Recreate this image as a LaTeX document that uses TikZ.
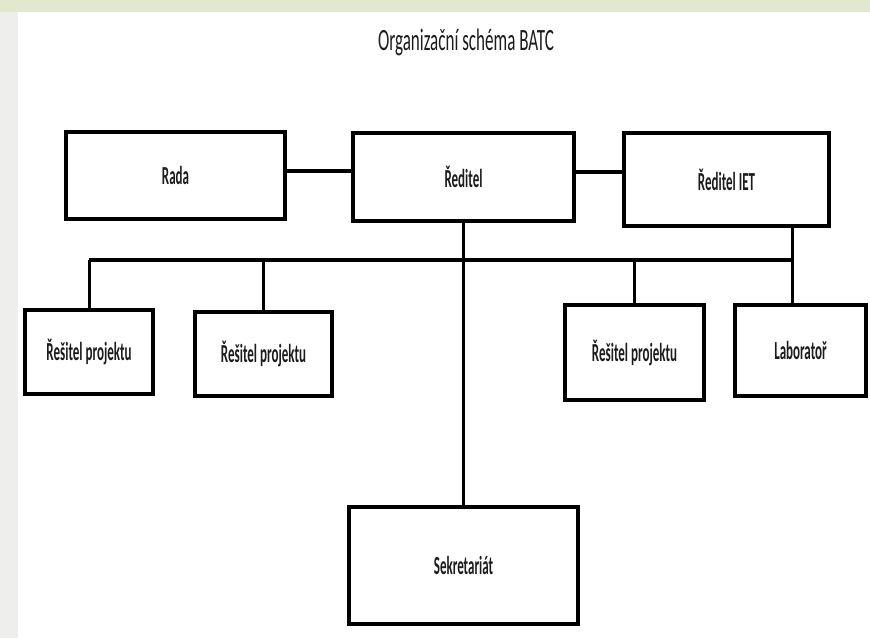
\documentclass[tikz,border=0pt]{standalone}
\usepackage{fontspec}
\setmainfont{Carlito}[FakeStretch=0.55]
\newfontfamily\boxfont{Carlito}[FakeStretch=0.5]
\usetikzlibrary{calc}

\definecolor{slidegray}{RGB}{238,238,236}
\definecolor{slidegreen}{RGB}{226,232,206}
\definecolor{inkgray}{RGB}{28,28,28}

\tikzset{
  box/.style={draw=black, line width=4pt, fill=white, inner sep=0pt,
    text=inkgray, font=\boxfont\bfseries\fontsize{26}{28}\selectfont},
  hline/.style={line width=4.5pt},
  vline/.style={line width=3pt}
}

\begin{document}
\begin{tikzpicture}[x=1pt, y=-1pt]
    \useasboundingbox (0,0) rectangle (870,638);
    % slide background
    \fill[slidegray] (0,0) rectangle (870,638);
    \fill[slidegreen] (0,0) rectangle (870,12);
    \fill[white] (18,12) rectangle (870,638);

    \node[text=inkgray, font=\fontsize{31}{33}\selectfont] (title) at (466, 42) {Organizační schéma BATC};

    \node[box, minimum width=219pt, minimum height=87pt] (rada) at (175.5, 175.5) {Rada};
    \node[box, minimum width=221pt, minimum height=88pt] (reditel) at (463.5, 177) {Ředitel};
    \node[box, minimum width=205pt, minimum height=93pt] (iet) at (726.5, 179.5) {Ředitel IET};

    \node[box, minimum width=128pt, minimum height=84pt] (res1) at (89, 352) {Řešitel projektu};
    \node[box, minimum width=137pt, minimum height=84pt] (res2) at (263.5, 354) {Řešitel projektu};
    \node[box, minimum width=139pt, minimum height=95pt] (res3) at (634.5, 352.5) {Řešitel projektu};
    \node[box, minimum width=131pt, minimum height=91pt] (lab) at (800.5, 350.5) {Laboratoř};

    \node[box, minimum width=229pt, minimum height=117pt] (sekr) at (463.5, 565.5) {Sekretariát};

    \coordinate (bus) at (0, 260);
    \coordinate (ietdrop) at (792, 0);

    \draw[hline] ([yshift=4.5pt]rada.east) -- ([yshift=4.5pt]rada.east -| reditel.west);
    \draw[hline] ([yshift=5pt]reditel.east) -- ([yshift=5pt]reditel.east -| iet.west);

    \draw[vline] (reditel.south) -- (sekr.north);
    \draw[hline] (res1.north |- bus) -- (ietdrop |- bus);
    \draw[vline] (iet.south -| ietdrop) -- (lab.north -| ietdrop);

    \draw[vline] (res1.north |- bus) -- (res1.north);
    \draw[vline] (res2.north |- bus) -- (res2.north);
    \draw[vline] (res3.north |- bus) -- (res3.north);

  \end{tikzpicture}
\end{document}
